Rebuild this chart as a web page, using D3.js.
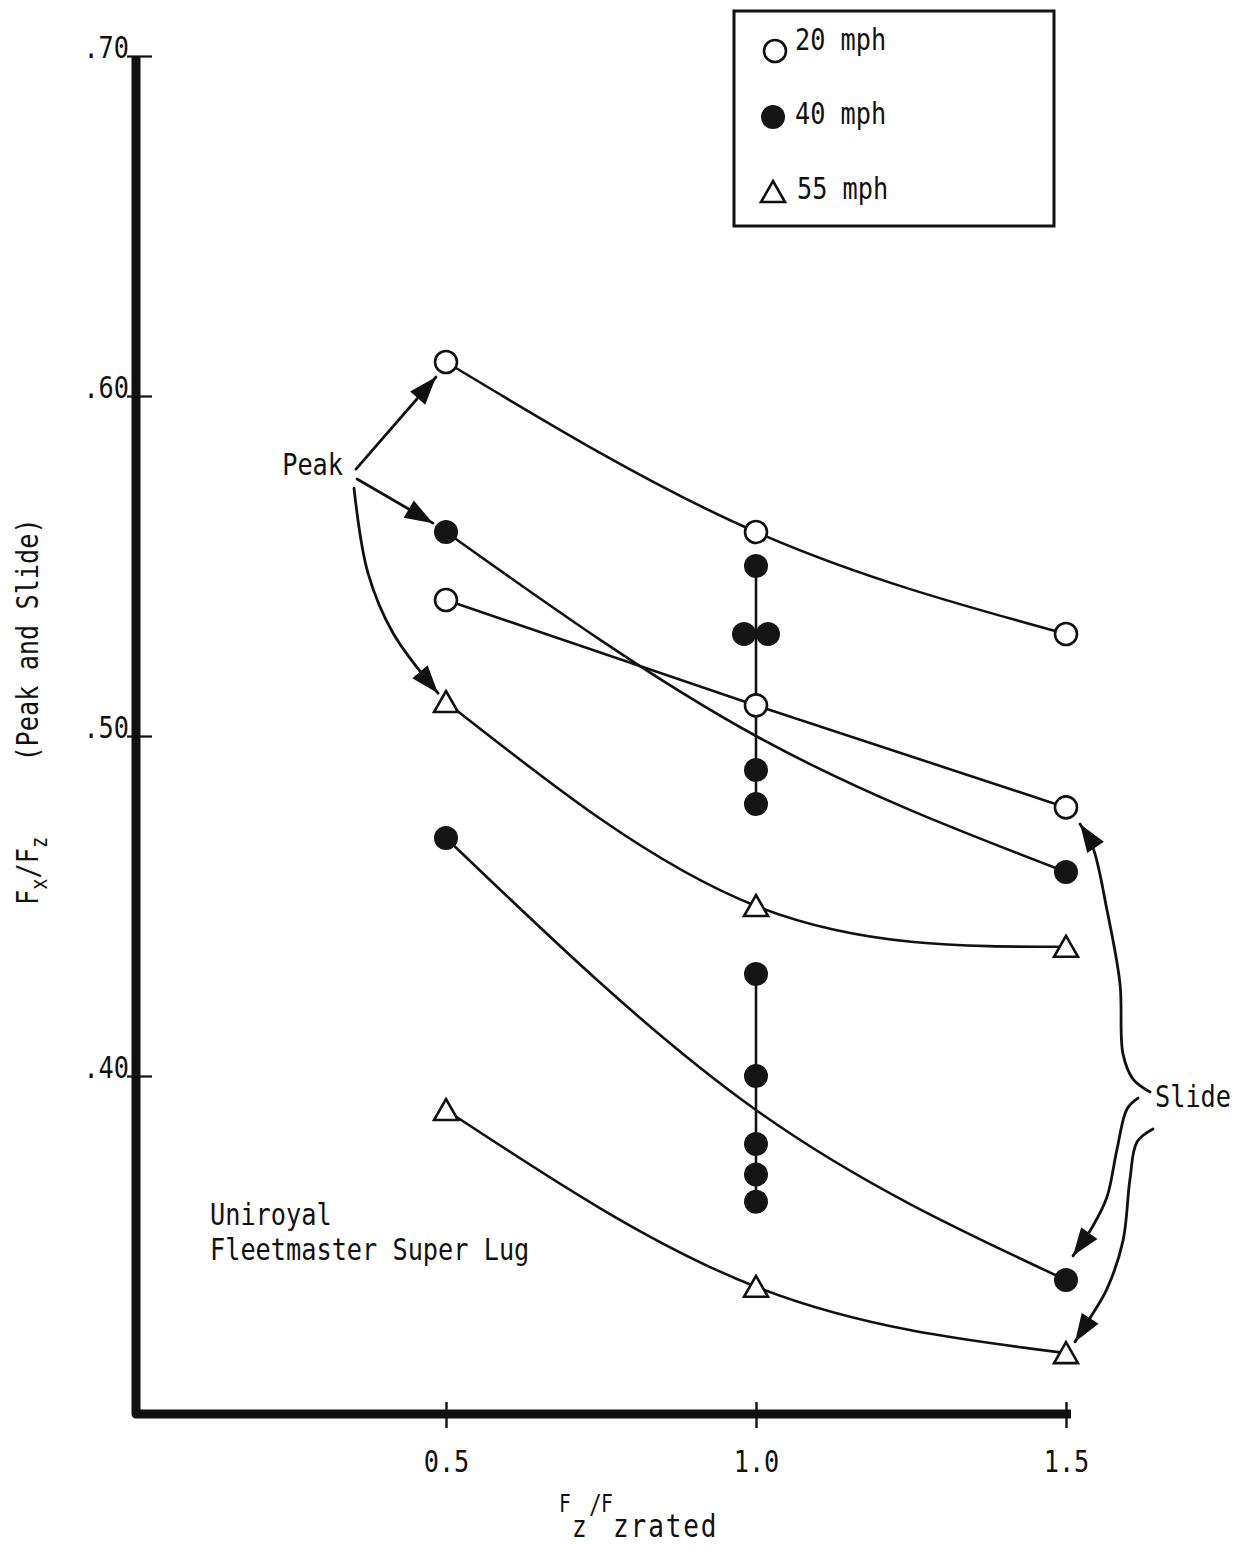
<!DOCTYPE html>
<html><head><meta charset="utf-8">
<script src="https://cdn.jsdelivr.net/npm/d3@7"></script>
<style>
html,body{margin:0;padding:0;background:#fff;}
svg{display:block;}
text{font-family:"DejaVu Sans Mono",monospace;fill:#111;}
</style></head><body>
<svg id="chart" width="1246" height="1550"></svg>
<script>
// Fz/Fzrated load ratios tested
const loadRatios = [0.5, 1.0, 1.5];
const xTickLabels = ["0.5", "1.0", "1.5"];
const yTickValues = [0.40, 0.50, 0.60, 0.70];
const yTickLabels = [".40", ".50", ".60", ".70"];
const speeds = ["20 mph", "40 mph", "55 mph"];

// Fx/Fz, peak and slide, per speed
const peak20 = [0.61, 0.56, 0.53];
const slide20 = [0.54, 0.509, 0.479];
const peak55 = [0.51, 0.45, 0.438];
const slide55 = [0.39, 0.338, 0.3185];
// 40 mph: single runs at light and heavy load, repeat runs at rated load
const peak40Ends = [0.56, 0.46];
const slide40Ends = [0.47, 0.34];
const peak40Rated = [0.55, 0.53, 0.53, 0.49, 0.48];
const slide40Rated = [0.43, 0.40, 0.38, 0.371, 0.363];
// faired curves through the 40 mph scatter
const peak40Fit = [0.56, 0.50, 0.46];
const slide40Fit = [0.47, 0.39, 0.34];

const svg = d3.select("#chart");
const x = d3.scaleLinear().domain([0, 1.5]).range([136, 1066]);
const y = d3.scaleLinear().domain([0.30, 0.70]).range([1416, 56]);
const FS = 31;      // body text size
const SX = 0.815;   // condensed typewriter face

function label(parent, px, py, str, size, anchor) {
  return parent.append("text")
    .attr("transform", `translate(${px},${py}) scale(${SX},1)`)
    .attr("font-size", size || FS)
    .attr("text-anchor", anchor || "start")
    .text(str);
}

// ---- axes ----
svg.append("path")
  .attr("d", `M${x(0)},${y(0.70)} L${x(0)},${y(0.30) - 2} L${x(1.5) + 5},${y(0.30) - 2}`)
  .attr("fill", "none").attr("stroke", "#111").attr("stroke-width", 9)
  .attr("stroke-linejoin", "round");

const gy = svg.append("g").attr("transform", `translate(${x(0)},0)`)
  .call(d3.axisLeft(y).tickValues(yTickValues).tickFormat((d, i) => yTickLabels[i]).tickSize(8));
gy.select(".domain").remove();
gy.selectAll(".tick line").attr("x1", -9).attr("x2", 16).attr("stroke", "#111").attr("stroke-width", 2.2);
gy.selectAll(".tick text")
  .attr("x", null).attr("dy", null)
  .attr("transform", `translate(-7,1) scale(${SX},1)`)
  .attr("font-size", FS).attr("font-family", "DejaVu Sans Mono").attr("fill", "#111")
  .attr("text-anchor", "end");

const gx = svg.append("g").attr("transform", `translate(0,${y(0.30) - 2})`)
  .call(d3.axisBottom(x).tickValues(loadRatios).tickFormat((d, i) => xTickLabels[i]).tickSize(14));
gx.select(".domain").remove();
gx.selectAll(".tick line").attr("y1", -12).attr("y2", 14).attr("stroke", "#111").attr("stroke-width", 2.4);
gx.selectAll(".tick text")
  .attr("y", null).attr("dy", null)
  .attr("transform", `translate(0,58) scale(${SX},1)`)
  .attr("font-size", FS).attr("font-family", "DejaVu Sans Mono").attr("fill", "#111");

// ---- curves ----
const curve = d3.line().x(d => x(d[0])).y(d => y(d[1])).curve(d3.curveNatural);
const gentle = d3.line().x(d => x(d[0])).y(d => y(d[1])).curve(d3.curveMonotoneX);
const straight = d3.line().x(d => x(d[0])).y(d => y(d[1]));
const zipX = vals => vals.map((v, i) => [loadRatios[i], v]);
const lines = svg.append("g").attr("fill", "none").attr("stroke", "#111").attr("stroke-width", 2.6);
lines.append("path").attr("d", curve(zipX(peak20)));
lines.append("path").attr("d", straight(zipX(slide20)));
lines.append("path").attr("d", gentle(zipX(peak40Fit)));
lines.append("path").attr("d", curve(zipX(slide40Fit)));
lines.append("path").attr("d", curve(zipX(peak55)));
lines.append("path").attr("d", curve(zipX(slide55)));
// spread of repeat runs at rated load
[peak40Rated, slide40Rated].forEach(set => {
  lines.append("path").attr("d", straight([[1.0, d3.max(set)], [1.0, d3.min(set)]]));
});

// ---- markers ----
const marks = svg.append("g");
function openCircle(px, py) {
  marks.append("circle").attr("cx", px).attr("cy", py).attr("r", 11)
    .attr("fill", "#fff").attr("stroke", "#111").attr("stroke-width", 2.6);
}
function dot(px, py) {
  marks.append("circle").attr("cx", px).attr("cy", py).attr("r", 12).attr("fill", "#151515");
}
function triangle(px, py) {
  marks.append("path")
    .attr("d", `M${px},${py - 11} L${px + 12},${py + 10} L${px - 12},${py + 10} Z`)
    .attr("fill", "#fff").attr("stroke", "#111").attr("stroke-width", 2.6);
}
zipX(peak20).forEach(d => openCircle(x(d[0]), y(d[1])));
zipX(slide20).forEach(d => openCircle(x(d[0]), y(d[1])));
zipX(peak55).forEach(d => triangle(x(d[0]), y(d[1])));
zipX(slide55).forEach(d => triangle(x(d[0]), y(d[1])));
[[0.5, peak40Ends[0]], [1.5, peak40Ends[1]], [0.5, slide40Ends[0]], [1.5, slide40Ends[1]]]
  .forEach(d => dot(x(d[0]), y(d[1])));
// repeat runs at rated load; coincident values are set side by side
[peak40Rated, slide40Rated].forEach(set => {
  const counts = d3.rollup(set, v => v.length, v => v);
  const seen = new Map();
  set.forEach(v => {
    const n = counts.get(v), k = seen.get(v) || 0;
    seen.set(v, k + 1);
    const off = n > 1 ? (k - (n - 1) / 2) * 24 : 0;
    dot(x(1.0) + off, y(v));
  });
});

// ---- arrow annotations ----
const defs = svg.append("defs");
defs.append("marker").attr("id", "head")
  .attr("markerUnits", "userSpaceOnUse")
  .attr("viewBox", "-30 -12 32 24").attr("markerWidth", 32).attr("markerHeight", 24)
  .attr("refX", 0).attr("refY", 0).attr("orient", "auto")
  .append("path").attr("d", "M0,0 L-28,-10 L-28,10 Z").attr("fill", "#111");

const peakArrows = [
  [[0.3548, 0.5785], [0.4839, 0.6056]],
  [[0.3565, 0.5756], [0.4790, 0.5626]],
  [[0.3516, 0.5729], [0.3742, 0.5479], [0.4145, 0.5303], [0.4871, 0.5126]]
];
const slideArrows = [
  [[1.6355, 0.3953], [1.6081, 0.3991], [1.5919, 0.4065], [1.5871, 0.4271], [1.5661, 0.4488], [1.5435, 0.4671], [1.5226, 0.4741]],
  [[1.6161, 0.3935], [1.5984, 0.3903], [1.5823, 0.3785], [1.5661, 0.3644], [1.5435, 0.3559], [1.5113, 0.3471]],
  [[1.6403, 0.3844], [1.6145, 0.3806], [1.6032, 0.3697], [1.5919, 0.3515], [1.5661, 0.3374], [1.5387, 0.3288], [1.5145, 0.3218]]
];
const smooth = d3.line().x(d => x(d[0])).y(d => y(d[1])).curve(d3.curveCatmullRom.alpha(0.5));
const arrows = svg.append("g").attr("fill", "none").attr("stroke", "#111").attr("stroke-width", 2.8)
  .attr("stroke-linecap", "round");
peakArrows.concat(slideArrows).forEach(pts => {
  arrows.append("path").attr("d", smooth(pts)).attr("marker-end", "url(#head)");
});

label(svg, 343, 475, "Peak", FS, "end");
label(svg, 1155, 1107, "Slide");
label(svg, 210, 1225, "Uniroyal");
label(svg, 210, 1260, "Fleetmaster Super Lug");

// ---- legend ----
svg.append("rect").attr("x", 734).attr("y", 11).attr("width", 320).attr("height", 215)
  .attr("fill", "#fff").attr("stroke", "#111").attr("stroke-width", 3);
const lg = svg.append("g");
lg.append("circle").attr("cx", 775).attr("cy", 51).attr("r", 11)
  .attr("fill", "#fff").attr("stroke", "#111").attr("stroke-width", 2.6);
lg.append("circle").attr("cx", 773).attr("cy", 117).attr("r", 12).attr("fill", "#151515");
lg.append("path").attr("d", "M773,181 L785,202 L761,202 Z")
  .attr("fill", "#fff").attr("stroke", "#111").attr("stroke-width", 2.6);
label(lg, 795, 50, speeds[0]);
label(lg, 795, 124, speeds[1]);
label(lg, 797, 199, speeds[2]);

// ---- axis titles ----
// Fz/Fzrated, typed with raised F's and the subscripts on the line
const xTitle = svg.append("g");
label(xTitle, 559, 1512, "F", 24);
label(xTitle, 572, 1537, "z", 30);
label(xTitle, 589, 1514, "/", 26);
label(xTitle, 601, 1512, "F", 24);
label(xTitle, 613, 1537, "zrated", 32).attr("letter-spacing", 2.3);

const yt = svg.append("text")
  .attr("transform", `translate(38,905) rotate(-90) scale(${SX},1)`);
yt.append("tspan").attr("font-size", FS).text("F");
yt.append("tspan").attr("font-size", 23).attr("dy", 9).text("x");
yt.append("tspan").attr("font-size", FS).attr("dy", -9).text("/F");
yt.append("tspan").attr("font-size", 23).attr("dy", 9).text("z");
yt.append("tspan").attr("font-size", FS).attr("dy", -9).attr("dx", 55).attr("xml:space", "preserve").text("  (Peak and Slide)");
</script>
</body></html>
